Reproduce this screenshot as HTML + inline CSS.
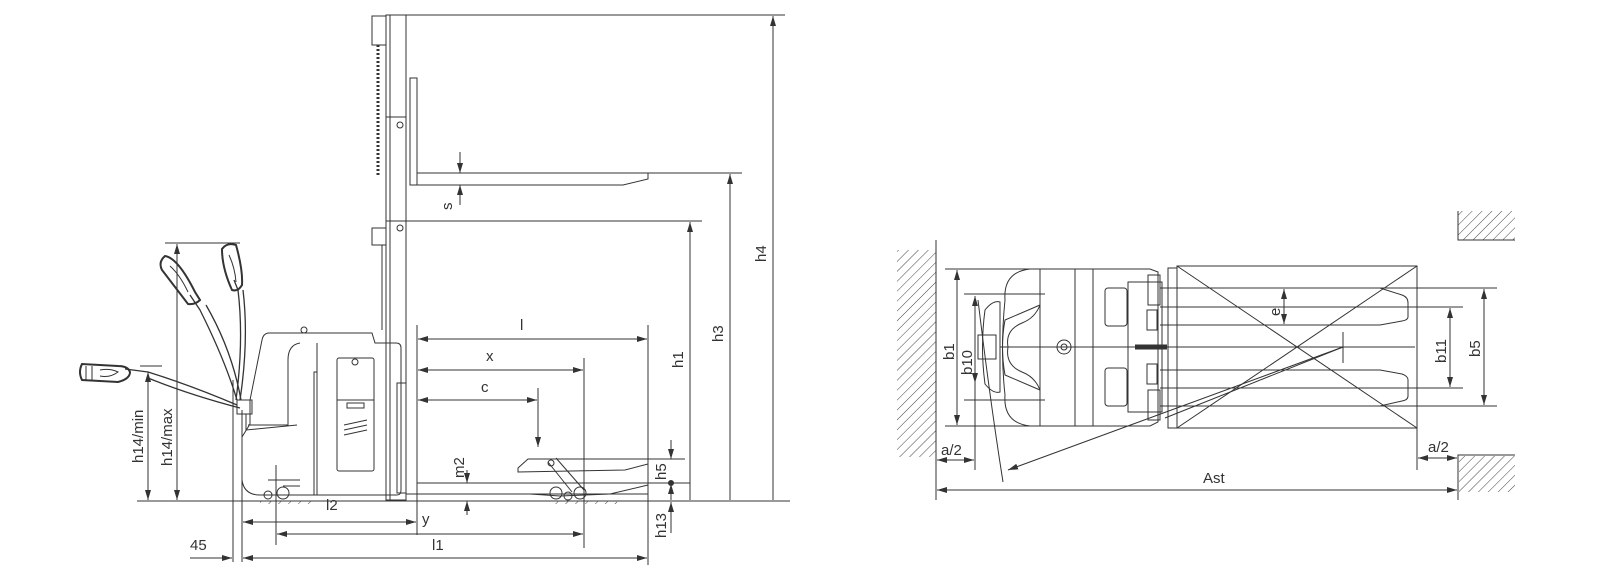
<!DOCTYPE html>
<html><head><meta charset="utf-8"><style>
html,body{margin:0;padding:0;background:#fff;}
svg{display:block;}
text{font-family:"Liberation Sans",sans-serif;font-size:15px;fill:#333;}
</style></head><body>
<svg width="1597" height="585" viewBox="0 0 1597 585" xmlns="http://www.w3.org/2000/svg">
<defs>
<marker id="a" viewBox="0 0 10 6" refX="10" refY="3" markerWidth="10" markerHeight="6" orient="auto-start-reverse" markerUnits="userSpaceOnUse"><path d="M0,0 L10,3 L0,6 z" fill="#333"/></marker>
<pattern id="h" width="7" height="7" patternUnits="userSpaceOnUse" patternTransform="rotate(45)"><line x1="0" y1="0" x2="0" y2="7" stroke="#444" stroke-width="1"/></pattern>
</defs>
<g stroke="#333" stroke-width="1" fill="none">
<line x1="137" y1="501" x2="790" y2="501"/>
<rect x="386" y="15" width="20" height="485"/>
<line x1="390" y1="15" x2="390" y2="500"/>
<line x1="386" y1="117" x2="406" y2="117"/>
<line x1="386" y1="221" x2="406" y2="221"/>
<rect x="372" y="16" width="14" height="29"/>
<rect x="372" y="228" width="14" height="17"/>
<line x1="378" y1="45" x2="378" y2="175" stroke-dasharray="2,2" stroke-width="3"/>
<line x1="382" y1="245" x2="382" y2="330"/>
<circle cx="400" cy="125" r="3"/><circle cx="400" cy="228" r="3"/>
<line x1="406" y1="15" x2="785" y2="15"/>
<rect x="410" y="78" width="7" height="107"/>
<path d="M417 173 L648 173 L648 179 L623 185 L417 185"/>
<line x1="648" y1="173" x2="742" y2="173"/>
<line x1="406" y1="221" x2="702" y2="221"/>
<line x1="460" y1="152" x2="460" y2="173" marker-end="url(#a)"/>
<line x1="460" y1="205" x2="460" y2="185" marker-end="url(#a)"/>
<line x1="447" y1="173" x2="470" y2="173"/><line x1="447" y1="185" x2="470" y2="185"/>
<line x1="773" y1="500" x2="773" y2="16" marker-end="url(#a)"/>
<line x1="730" y1="500" x2="730" y2="174" marker-end="url(#a)"/>
<line x1="690" y1="500" x2="690" y2="222" marker-end="url(#a)"/>
<line x1="417" y1="325" x2="417" y2="535"/>
<line x1="648" y1="325" x2="648" y2="565"/>
<line x1="584" y1="358" x2="584" y2="548"/>
<line x1="418" y1="339" x2="647" y2="339" marker-start="url(#a)" marker-end="url(#a)"/>
<line x1="418" y1="370" x2="583" y2="370" marker-start="url(#a)" marker-end="url(#a)"/>
<line x1="418" y1="400" x2="537" y2="400" marker-start="url(#a)" marker-end="url(#a)"/>
<line x1="538" y1="388" x2="538" y2="447" marker-end="url(#a)"/>
<path d="M518 468 L528 459 L648 459 L648 464 L625 470 L518 472 Z"/>
<path d="M530 494 L560 496 L610 494 L648 485"/>
<line x1="417" y1="483" x2="690" y2="483"/>
<line x1="406" y1="494" x2="648" y2="494"/>
<path d="M548 462 L572 492 M556 458 L584 490"/>
<circle cx="551" cy="463" r="3"/><circle cx="556" cy="493" r="6"/><circle cx="580" cy="493" r="6"/><circle cx="568" cy="496" r="4"/>
<rect x="555" y="501" width="62" height="3" fill="url(#h)" stroke="none"/>
<line x1="467" y1="470" x2="467" y2="483" marker-end="url(#a)"/>
<line x1="467" y1="515" x2="467" y2="501" marker-end="url(#a)"/>
<line x1="671" y1="440" x2="671" y2="459" marker-end="url(#a)"/>
<line x1="671" y1="500" x2="671" y2="484" marker-end="url(#a)"/>
<line x1="671" y1="533" x2="671" y2="502" marker-end="url(#a)"/>
<line x1="648" y1="459" x2="685" y2="459"/>
<circle cx="671" cy="483" r="2.5" fill="#333"/>
<line x1="233" y1="380" x2="233" y2="562"/>
<line x1="242" y1="410" x2="242" y2="562"/>
<line x1="276" y1="465" x2="276" y2="545"/>
<line x1="243" y1="522" x2="416" y2="522" marker-start="url(#a)" marker-end="url(#a)"/>
<line x1="277" y1="534" x2="583" y2="534" marker-start="url(#a)" marker-end="url(#a)"/>
<line x1="243" y1="558" x2="647" y2="558" marker-start="url(#a)" marker-end="url(#a)"/>
<line x1="190" y1="558" x2="232" y2="558" marker-end="url(#a)"/>
<line x1="140" y1="366" x2="162" y2="366"/>
<line x1="165" y1="243" x2="240" y2="243"/>
<line x1="148" y1="372" x2="148" y2="500" marker-start="url(#a)" marker-end="url(#a)"/>
<line x1="177" y1="244" x2="177" y2="500" marker-start="url(#a)" marker-end="url(#a)"/>
<path d="M242 437 L242 480 Q244 495 260 495 L397 495 Q401 495 401 490 L401 348 Q401 343 396 343 L375 343 L372 333 L268 333 Q263 334 262 340 L250 400 L250 424 L242 437 Z"/>
<line x1="317" y1="343" x2="317" y2="495"/>
<path d="M300 343 Q288 345 288 360 L288 425 L248 425"/>
<path d="M317 372 L314 372 L314 495"/>
<rect x="337" y="358" width="37" height="113" rx="2"/>
<line x1="337" y1="400" x2="374" y2="400"/>
<rect x="347" y="403" width="17" height="5"/>
<path d="M344 425 L367 420 M344 430 L367 425 M344 435 L367 430"/>
<circle cx="355" cy="362" r="3"/>
<circle cx="304" cy="330" r="3"/>
<path d="M276 465 L276 500 M268 480 L300 480 M283 486 L300 486"/>
<circle cx="283" cy="493" r="6"/><circle cx="268" cy="495" r="4"/>
<rect x="260" y="501" width="52" height="3" fill="url(#h)" stroke="none"/>
<rect x="397" y="383" width="9" height="110"/>
<path d="M237 405 Q190 385 148 372 L125 369" stroke-width="1.3"/>
<path d="M240 408 Q190 395 148 378" stroke-width="1.3"/>
<path d="M237 400 Q225 360 200 310 L190 295" stroke-width="1.3"/>
<path d="M241 400 Q232 350 206 305" stroke-width="1.3"/>
<path d="M236 400 Q244 340 238 290 L234 280" stroke-width="1.3"/>
<path d="M240 400 Q249 340 243 290" stroke-width="1.3"/>
<path d="M82 364 Q78 372 82 380 L118 382 Q130 379 130 372 Q128 366 118 366 Z" stroke-width="2"/>
<path d="M86 366 L86 380 M92 366 L92 380 M100 370 Q110 368 118 372 Q110 378 100 376" />
<path d="M162 270 Q158 262 165 256 Q178 258 195 292 L200 300 Q195 305 188 304 Z" stroke-width="2"/>
<path d="M170 266 Q180 275 188 292"/>
<path d="M222 249 Q227 242 236 245 Q243 270 242 285 Q238 292 232 290 Q222 268 222 249 Z" stroke-width="2"/>
<path d="M229 255 Q235 268 236 282"/>
<rect x="237" y="400" width="15" height="14"/>
<path d="M246 414 L246 430 L297 425"/>
</g>
<g>
<text x="520" y="330">l</text>
<text x="486" y="361">x</text>
<text x="481" y="392">c</text>
<text x="326" y="510">l2</text>
<text x="422" y="524">y</text>
<text x="432" y="550">l1</text>
<text x="190" y="550">45</text>
<text transform="translate(452,210) rotate(-90)">s</text>
<text transform="translate(766,262) rotate(-90)">h4</text>
<text transform="translate(723,342) rotate(-90)">h3</text>
<text transform="translate(683,368) rotate(-90)">h1</text>
<text transform="translate(464,478) rotate(-90)">m2</text>
<text transform="translate(666,480) rotate(-90)">h5</text>
<text transform="translate(666,538) rotate(-90)">h13</text>
<text transform="translate(143,463) rotate(-90)">h14/min</text>
<text transform="translate(172,466) rotate(-90)">h14/max</text>
</g>
<g stroke="#333" stroke-width="1" fill="none">
<rect x="897" y="250" width="39" height="207" fill="url(#h)" stroke="none"/>
<line x1="936" y1="240" x2="936" y2="500"/>
<path d="M1515 240 L1458 240 L1458 211" />
<rect x="1458" y="211" width="57" height="29" fill="url(#h)" stroke="none"/>
<line x1="1458" y1="211" x2="1458" y2="240"/><line x1="1458" y1="240" x2="1515" y2="240"/>
<path d="M1515 455 L1458 455 L1458 500" />
<rect x="1459" y="456" width="56" height="36" fill="url(#h)" stroke="none"/>
<path d="M1005 300 Q1003 272 1030 269 L1150 269 L1158 272 L1158 422 L1150 426 L1030 426 Q1003 423 1005 395 Q1000 350 1005 300 Z"/>
<line x1="1040" y1="269" x2="1040" y2="426"/>
<line x1="1075" y1="269" x2="1075" y2="426"/>
<line x1="1093" y1="269" x2="1093" y2="426"/>
<path d="M1040 305 L1005 320 Q1000 347 1005 375 L1040 390"/>
<path d="M1040 305 Q1035 318 1022 323 Q1005 330 1008 347 Q1005 365 1022 372 Q1035 377 1040 390"/>
<rect x="1105" y="288" width="22" height="38" rx="3"/>
<rect x="1105" y="368" width="22" height="38" rx="3"/>
<circle cx="1064" cy="347" r="7"/><circle cx="1064" cy="347" r="3"/>
<path d="M1128 282 L1162 282 L1162 412 L1128 412 Z"/>
<rect x="1148" y="275" width="12" height="30"/><rect x="1148" y="390" width="12" height="30"/>
<rect x="1147" y="310" width="10" height="20"/><rect x="1147" y="364" width="10" height="20"/>
<line x1="1135" y1="347" x2="1167" y2="347" stroke-width="5"/>
<rect x="1168" y="268" width="9" height="160"/>
<path d="M985 310 Q993 300 1000 302 L1000 392 Q993 394 985 384 Q980 347 985 310 Z"/>
<rect x="978" y="335" width="18" height="24"/>
<line x1="945" y1="269" x2="1040" y2="269"/>
<line x1="945" y1="426" x2="1040" y2="426"/>
<line x1="957" y1="270" x2="957" y2="425" marker-start="url(#a)" marker-end="url(#a)"/>
<line x1="964" y1="294" x2="1045" y2="294"/>
<line x1="964" y1="400" x2="1045" y2="400"/>
<line x1="975" y1="296" x2="975" y2="470" marker-start="url(#a)"/>
<line x1="975" y1="360" x2="975" y2="383" marker-end="url(#a)"/>
<path d="M978 300 Q990 400 1003 482"/>
<line x1="937" y1="460" x2="974" y2="460" marker-start="url(#a)" marker-end="url(#a)"/>
<rect x="1177" y="266" width="240" height="162"/>
<line x1="1177" y1="266" x2="1417" y2="428"/>
<line x1="1177" y1="428" x2="1417" y2="266"/>
<line x1="1417" y1="428" x2="1417" y2="470"/>
<line x1="1160" y1="288" x2="1497" y2="288"/>
<line x1="1160" y1="307" x2="1463" y2="307"/>
<line x1="1160" y1="325" x2="1380" y2="325"/>
<line x1="1000" y1="347" x2="1415" y2="347"/>
<line x1="1160" y1="370" x2="1380" y2="370"/>
<line x1="1160" y1="388" x2="1463" y2="388"/>
<line x1="1160" y1="406" x2="1497" y2="406"/>
<path d="M1380 288 L1402 295 Q1408 297 1408 303 L1408 317 Q1408 320 1402 321 L1380 325"/>
<path d="M1380 370 L1402 374 Q1408 376 1408 380 L1408 396 Q1408 400 1402 401 L1380 406"/>
<line x1="1343" y1="332" x2="1343" y2="363"/>
<line x1="1343" y1="347" x2="1008" y2="470" marker-end="url(#a)"/>
<line x1="1343" y1="347" x2="1165" y2="418"/>
<line x1="1284" y1="289" x2="1284" y2="324" marker-start="url(#a)" marker-end="url(#a)"/>
<line x1="1450" y1="308" x2="1450" y2="387" marker-start="url(#a)" marker-end="url(#a)"/>
<line x1="1484" y1="289" x2="1484" y2="405" marker-start="url(#a)" marker-end="url(#a)"/>
<line x1="1418" y1="458" x2="1457" y2="458" marker-start="url(#a)" marker-end="url(#a)"/>
<line x1="937" y1="490" x2="1457" y2="490" marker-start="url(#a)" marker-end="url(#a)"/>
</g>
<g>
<text transform="translate(954,360) rotate(-90)">b1</text>
<text transform="translate(972,375) rotate(-90)">b10</text>
<text transform="translate(1280,316) rotate(-90)">e</text>
<text transform="translate(1446,363) rotate(-90)">b11</text>
<text transform="translate(1480,357) rotate(-90)">b5</text>
<text x="941" y="455">a/2</text>
<text x="1428" y="452">a/2</text>
<text x="1203" y="483">Ast</text>
</g>
</svg>
</body></html>
